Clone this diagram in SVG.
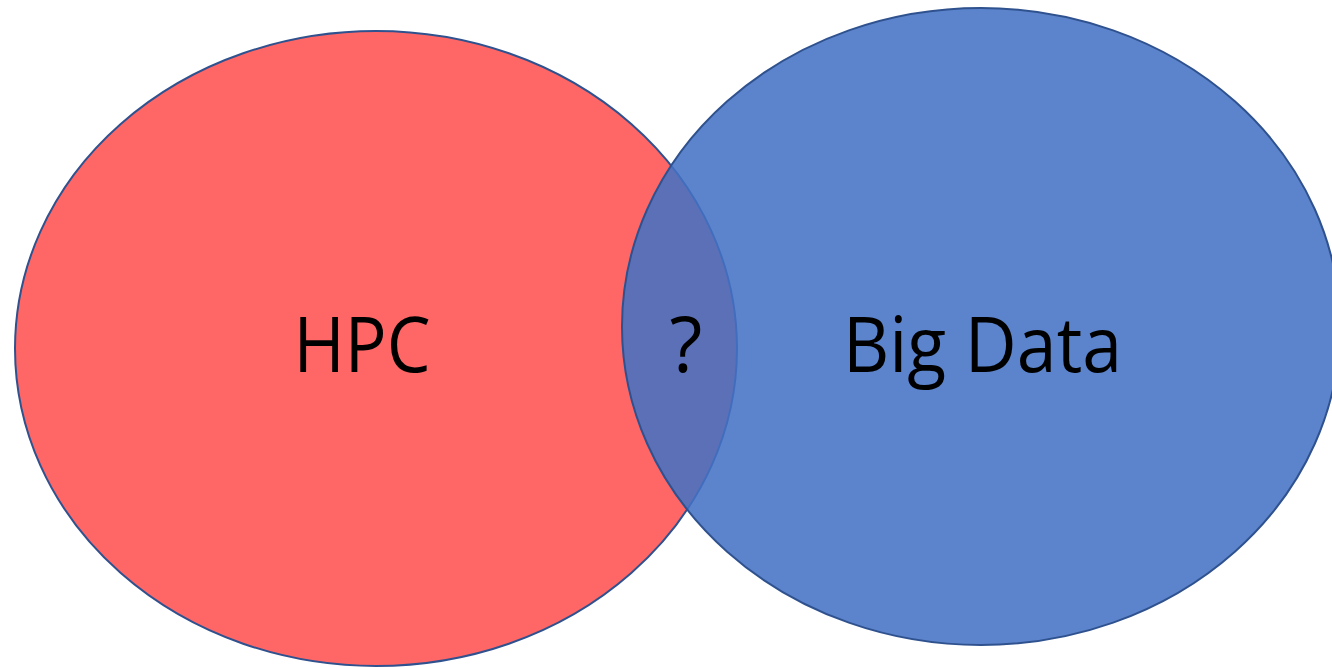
<svg xmlns="http://www.w3.org/2000/svg" width="1332" height="667" viewBox="0 0 1332 667">
  <style>
    .set { stroke: #2F528F; stroke-width: 2; }
    .label { font-family: "Open Sans", "Liberation Sans", sans-serif; font-size: 76px; fill: #000; text-anchor: middle; }
  </style>
  <rect width="1332" height="667" fill="#FFFFFF"/>
  <!-- HPC set -->
  <g id="hpc">
    <ellipse class="set" cx="376" cy="348.5" rx="361" ry="317.5" fill="#FF6666"/>
    <text class="label" x="362" y="372" textLength="137" lengthAdjust="spacingAndGlyphs">HPC</text>
  </g>
  <!-- Big Data set, semi-transparent so the overlap shows through -->
  <g id="bigdata">
    <ellipse class="set" cx="981" cy="326.5" rx="359" ry="318.5" fill="#4472C4" fill-opacity="0.87"/>
    <text class="label" x="982.5" y="372" textLength="279" lengthAdjust="spacingAndGlyphs">Big Data</text>
  </g>
  <!-- Intersection label -->
  <g id="overlap">
    <text class="label" x="686" y="372">?</text>
  </g>
</svg>
